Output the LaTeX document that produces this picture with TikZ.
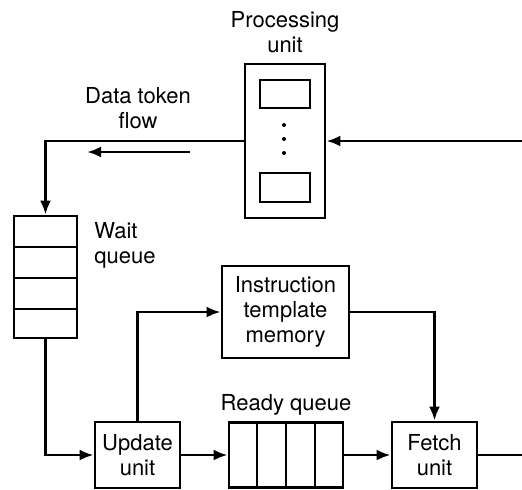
\documentclass[tikz,border=0pt]{standalone}
\usepackage{fontspec}
\setmainfont{TeX Gyre Heros}
\usetikzlibrary{arrows.meta}
\begin{document}
\begin{tikzpicture}[x=0.5pt,y=-0.5pt,line width=1.4pt,
  font=\fontsize{11}{12.5}\selectfont,
  >={Latex[length=7pt,width=5.5pt]},
  box/.style={draw,inner sep=0pt,align=center},
  lbl/.style={align=center,inner sep=0pt}]
\useasboundingbox (0,0) rectangle (522,489);
\node [box,minimum width=40pt,minimum height=77pt] (pu) at (285,141) {};
\node [box,minimum width=25pt,minimum height=14pt] (pin1) at (285,94) {};
\node [box,minimum width=25pt,minimum height=14.5pt] (pin2) at (285,187.5) {};
\foreach \y in {125,139,153} \fill (284,\y) circle (1pt);
\node [lbl] (pulbl) at (285,32) {Processing\\unit};
\node [lbl] (dtlbl) at (138,108) {Data token\\flow};
\node [box,minimum width=31.5pt,minimum height=61pt] (wq) at (45.5,277) {};
\foreach \y in {247,278,309} \draw (wq.west |- 0,\y) -- (wq.east |- 0,\y);
\node [lbl,align=left,anchor=west] (wqlbl) at (93,245) {Wait\\queue};
\node [box,minimum width=63.5pt,minimum height=46pt] (itm) at (285.5,312) {Instruction\\template\\memory};
\node [box,minimum width=42.5pt,minimum height=33pt] (uu) at (137.5,455) {Update\\unit};
\node [box,minimum width=57pt,minimum height=32.5pt] (rq) at (286,455) {};
\foreach \x in {257,286,315} \draw (\x,0 |- rq.north) -- (\x,0 |- rq.south);
\node [lbl] (rqlbl) at (286,405) {Ready queue};
\node [box,minimum width=42.5pt,minimum height=33pt] (fu) at (434.5,455) {Fetch\\unit};
\coordinate (in) at (522,141);
\coordinate (out) at (522,455);
\coordinate (dfs) at (190,152);
\coordinate (dfe) at (87,152);
\draw [->] (in) -- (pu.east);
\draw [->] (pu.west) -| (wq.north);
\draw [->] (dfs) -- (dfe);
\draw [->] (wq.south) |- (uu.west);
\draw [->] (uu.east) -- (rq.west);
\draw [->] (rq.east) -- (fu.west);
\draw [->] (uu.north) |- (itm.west);
\draw [->] (itm.east) -| (fu.north);
\draw (fu.east) -- (out);
\end{tikzpicture}
\end{document}
